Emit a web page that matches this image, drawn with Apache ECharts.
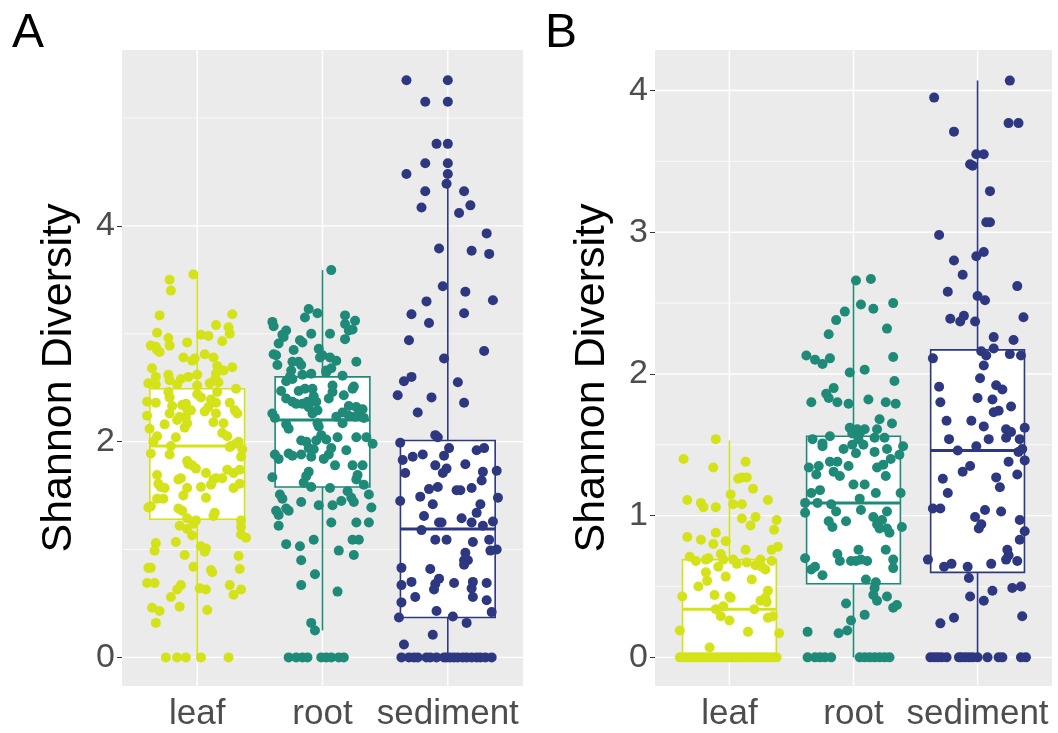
<!DOCTYPE html>
<html>
<head>
<meta charset="utf-8">
<script src="https://cdn.jsdelivr.net/npm/echarts@6/dist/echarts.min.js"></script>
<style>
  html, body { margin: 0; padding: 0; background: #fff; }
  #chart { width: 1058px; height: 733px; }
</style>
</head>
<body>
<div id="chart"></div>
<script>
// 分组与颜色
const categories = ['leaf', 'root', 'sediment'];
const groupColors = ['#D4E21A', '#1F8A78', '#2E3880'];

// y 轴刻度
const ticksA = [0, 2, 4];
const minorA = [1, 3, 5];
const ticksB = [0, 1, 2, 3, 4];
const minorB = [0.5, 1.5, 2.5, 3.5];

// 箱线统计 [min, Q1, median, Q3, max]
const boxA = [[0, 1.28, 1.96, 2.49, 3.54], [0.25, 1.58, 2.20, 2.60, 3.59], [0, 0.37, 1.19, 2.01, 4.38]];
const boxB = [[0, 0, 0.34, 0.69, 1.53], [0, 0.52, 1.09, 1.56, 2.64], [0, 0.60, 1.46, 2.17, 4.07]];

// 散点 [抖动偏移, Shannon 值]
const leafA = [[-0.03,3.55],[-0.22,3.50],[-0.21,3.40],[-0.30,3.17],[0.28,3.18],[0.15,3.08],[0.25,3.06],[0.26,3.00],[-0.32,3.01],[0.03,2.99],[0.09,2.98],[-0.23,2.96],[-0.08,2.92],[0.20,2.93],[-0.37,2.89],[-0.33,2.88],[-0.22,2.89],[-0.30,2.83],[-0.32,2.85],[0.06,2.81],[-0.11,2.78],[0.13,2.78],[-0.02,2.77],[-0.04,2.75],[-0.36,2.68],[0.16,2.70],[0.28,2.69],[0.21,2.66],[0.15,2.63],[0.14,2.57],[-0.33,2.60],[-0.23,2.62],[-0.22,2.57],[-0.13,2.58],[-0.07,2.60],[0.00,2.62],[-0.39,2.54],[-0.33,2.53],[-0.16,2.53],[0.00,2.52],[0.10,2.54],[0.17,2.55],[0.31,2.49],[0.00,2.44],[0.03,2.41],[-0.23,2.46],[-0.22,2.41],[0.16,2.46],[0.11,2.39],[-0.40,2.37],[-0.33,2.36],[-0.20,2.33],[-0.12,2.34],[-0.09,2.35],[0.15,2.36],[0.26,2.36],[0.09,2.32],[-0.22,2.26],[-0.08,2.30],[-0.05,2.29],[-0.14,2.23],[-0.09,2.23],[0.06,2.28],[0.15,2.26],[0.30,2.29],[0.32,2.26],[-0.40,2.24],[0.13,2.18],[-0.16,2.20],[-0.26,2.16],[-0.10,2.13],[-0.08,2.17],[0.21,2.17],[-0.38,2.12],[0.20,2.08],[-0.17,2.04],[-0.32,2.05],[-0.35,2.00],[0.24,2.05],[0.31,1.98],[0.27,1.96],[0.26,1.95],[0.33,2.00],[-0.21,1.96],[-0.37,1.89],[-0.22,1.88],[0.36,1.93],[0.35,1.86],[-0.08,1.82],[-0.07,1.79],[-0.01,1.75],[-0.04,1.78],[0.07,1.71],[-0.32,1.69],[0.24,1.74],[0.29,1.71],[0.34,1.74],[0.15,1.66],[0.13,1.65],[0.20,1.66],[-0.15,1.65],[-0.13,1.66],[-0.31,1.61],[-0.29,1.58],[-0.26,1.57],[-0.08,1.57],[0.03,1.58],[0.11,1.60],[0.29,1.57],[0.34,1.61],[-0.11,1.50],[-0.27,1.47],[-0.32,1.47],[0.07,1.48],[-0.39,1.39],[-0.37,1.40],[-0.15,1.38],[-0.12,1.36],[0.14,1.34],[0.13,1.31],[-0.08,1.29],[-0.01,1.27],[-0.03,1.24],[0.35,1.27],[-0.14,1.22],[-0.08,1.19],[0.35,1.21],[0.35,1.14],[0.39,1.11],[-0.04,1.13],[-0.33,1.06],[-0.34,0.99],[-0.17,1.07],[0.03,1.03],[0.07,1.01],[0.06,0.98],[-0.10,0.95],[0.33,0.94],[-0.39,0.83],[-0.37,0.83],[-0.03,0.84],[0.11,0.81],[0.12,0.79],[0.34,0.82],[-0.40,0.69],[-0.34,0.69],[-0.13,0.67],[-0.16,0.63],[-0.21,0.56],[0.02,0.64],[0.07,0.63],[0.26,0.67],[0.35,0.63],[0.29,0.58],[-0.36,0.46],[-0.30,0.43],[-0.14,0.47],[0.08,0.44],[-0.33,0.32],[-0.25,0],[-0.16,0],[-0.09,0],[0.03,0],[0.25,0]];

const rootA = [[0.07,3.59],[-0.11,3.23],[-0.14,3.15],[-0.04,3.19],[0.18,3.17],[0.26,3.12],[0.18,3.09],[-0.40,3.11],[-0.39,3.07],[0.24,3.04],[0.21,3.03],[-0.29,3.03],[-0.32,2.99],[-0.31,2.97],[-0.09,3.00],[0.06,3.00],[0.18,2.95],[-0.18,2.94],[-0.16,2.92],[-0.35,2.91],[-0.23,2.85],[-0.03,2.86],[0,2.80],[-0.02,2.78],[-0.39,2.81],[-0.37,2.80],[0.11,2.75],[0.27,2.74],[0.06,2.78],[-0.24,2.74],[-0.19,2.74],[-0.17,2.71],[-0.36,2.71],[-0.25,2.66],[0.03,2.66],[0.07,2.68],[0.03,2.64],[-0.26,2.60],[-0.16,2.62],[-0.09,2.63],[0.16,2.61],[-0.29,2.56],[-0.24,2.58],[-0.33,2.47],[-0.19,2.47],[-0.14,2.49],[-0.08,2.49],[-0.07,2.42],[-0.05,2.37],[0.08,2.52],[0.25,2.51],[0.24,2.49],[0.08,2.46],[-0.29,2.40],[-0.24,2.37],[-0.21,2.35],[-0.16,2.35],[-0.12,2.37],[0.17,2.43],[0.05,2.40],[-0.11,2.32],[-0.08,2.26],[-0.04,2.29],[0.21,2.33],[0.27,2.32],[0.32,2.30],[0.16,2.27],[0.29,2.25],[0.33,2.22],[0.11,2.23],[0.16,2.17],[-0.40,2.26],[-0.38,2.22],[0.21,2.24],[0.26,2.23],[-0.04,2.17],[-0.03,2.14],[-0.29,2.16],[-0.27,2.12],[-0.01,2.06],[0.12,2.04],[0.27,2.04],[0.35,2.04],[-0.17,2.01],[-0.13,2.00],[-0.05,2.01],[0.03,2.02],[-0.11,1.94],[-0.07,1.93],[0.07,1.94],[0.40,1.98],[0.19,1.92],[-0.38,1.88],[-0.35,1.84],[-0.27,1.89],[-0.24,1.87],[-0.17,1.88],[-0.09,1.86],[0.05,1.88],[0.01,1.84],[0.10,1.78],[0.24,1.78],[0.32,1.78],[0.28,1.69],[0.27,1.65],[-0.11,1.72],[-0.13,1.68],[-0.40,1.67],[-0.15,1.62],[-0.09,1.58],[0.06,1.57],[0.33,1.60],[-0.34,1.51],[-0.32,1.47],[0.20,1.54],[0.23,1.48],[0.15,1.45],[0.37,1.51],[0.25,1.44],[-0.17,1.44],[-0.03,1.41],[0.08,1.41],[-0.37,1.36],[-0.35,1.32],[-0.29,1.38],[-0.27,1.36],[0.39,1.39],[-0.35,1.22],[0.07,1.25],[0.27,1.25],[0.37,1.25],[-0.29,1.05],[-0.18,1.03],[-0.07,1.09],[0.24,1.09],[0.29,1.09],[0.13,0.99],[0.25,0.95],[-0.17,0.90],[-0.06,0.77],[-0.17,0.67],[0.12,0.61],[-0.09,0.32],[-0.06,0.25],[-0.27,0],[-0.21,0],[-0.16,0],[-0.12,0],[-0.01,0],[0.03,0],[0.07,0],[0.13,0],[0.17,0]];

const sedimentA = [[-0.33,5.35],[0.00,5.35],[-0.18,5.15],[0.00,5.15],[-0.09,4.76],[0.00,4.76],[-0.18,4.58],[0.00,4.58],[-0.33,4.48],[0.00,4.48],[-0.01,4.39],[-0.18,4.32],[0.13,4.32],[-0.21,4.17],[0.18,4.19],[0.09,4.12],[0.31,3.93],[-0.07,3.79],[0.19,3.77],[0.33,3.74],[-0.04,3.44],[0.14,3.39],[-0.17,3.30],[0.36,3.31],[-0.29,3.18],[0.13,3.19],[-0.15,3.10],[-0.31,2.94],[0.29,2.84],[-0.03,2.77],[-0.35,2.56],[-0.29,2.60],[0.08,2.55],[-0.40,2.43],[-0.13,2.41],[0.13,2.36],[-0.24,2.27],[-0.10,2.06],[-0.08,2.04],[-0.38,1.99],[-0.36,1.83],[-0.28,1.86],[-0.20,1.88],[-0.03,1.87],[0.01,1.94],[0.23,1.92],[0.29,1.94],[-0.34,1.71],[-0.10,1.78],[0.14,1.79],[-0.04,1.71],[-0.01,1.75],[0.28,1.72],[0.27,1.64],[0.39,1.73],[-0.15,1.56],[-0.08,1.58],[-0.22,1.49],[0.07,1.55],[0.10,1.55],[0.19,1.57],[0.40,1.48],[-0.38,1.45],[-0.12,1.42],[0.26,1.42],[0.23,1.34],[-0.19,1.31],[0.11,1.29],[-0.07,1.25],[-0.05,1.25],[0.19,1.25],[0.28,1.22],[0.36,1.26],[-0.21,1.18],[-0.10,1.09],[-0.01,1.09],[0.20,1.07],[0.33,1.09],[0.39,1.00],[0.34,0.99],[0.14,0.97],[0.13,0.90],[0.16,0.90],[0.13,0.86],[-0.37,0.83],[-0.14,0.82],[-0.07,0.73],[-0.10,0.68],[-0.11,0.63],[-0.29,0.70],[-0.37,0.67],[0.05,0.69],[0.20,0.70],[0.19,0.64],[0.31,0.69],[-0.26,0.56],[-0.37,0.51],[0.20,0.56],[0.31,0.53],[-0.09,0.43],[0.35,0.42],[-0.39,0.37],[0.04,0.38],[0.15,0.32],[-0.12,0.21],[-0.35,0.12],[-0.37,0],[-0.31,0],[-0.27,0],[-0.24,0],[-0.17,0],[-0.14,0],[-0.09,0],[-0.03,0],[-0.01,0],[0.02,0],[0.05,0],[0.08,0],[0.12,0],[0.15,0],[0.19,0],[0.23,0],[0.26,0],[0.30,0],[0.35,0]];

const leafB = [[-0.11,1.54],[-0.37,1.40],[-0.13,1.34],[0.13,1.38],[0.07,1.26],[0.10,1.27],[0.14,1.27],[0.19,1.19],[0.01,1.15],[-0.34,1.11],[-0.23,1.09],[-0.21,1.06],[-0.11,1.06],[0.03,1.08],[0.10,1.08],[0.31,1.11],[0.10,0.98],[0.21,0.99],[0.17,0.93],[0.38,0.97],[0.36,0.90],[-0.34,0.85],[-0.23,0.83],[-0.11,0.88],[-0.03,0.82],[-0.13,0.80],[0.13,0.76],[0.34,0.76],[0.39,0.78],[-0.07,0.73],[-0.32,0.71],[-0.27,0.68],[-0.19,0.69],[-0.17,0.70],[-0.09,0.64],[-0.05,0.69],[0.03,0.69],[0.06,0.66],[0.14,0.67],[0.25,0.69],[0.26,0.64],[0.29,0.62],[0.34,0.68],[0.21,0.65],[-0.19,0.60],[-0.18,0.54],[-0.03,0.57],[-0.25,0.50],[0.18,0.55],[-0.38,0.43],[-0.12,0.44],[0.00,0.43],[0.01,0.42],[0.31,0.47],[0.25,0.40],[0.30,0.39],[0.29,0.42],[-0.11,0.34],[-0.05,0.36],[0.20,0.34],[-0.07,0.29],[0.00,0.26],[0.31,0.28],[0.35,0.29],[-0.40,0.19],[0.15,0.18],[0.40,0.17],[-0.16,0.07],[-0.40,0],[-0.37,0],[-0.34,0],[-0.31,0],[-0.28,0],[-0.25,0],[-0.22,0],[-0.19,0],[-0.16,0],[-0.13,0],[-0.10,0],[-0.07,0],[-0.04,0],[-0.01,0],[0.02,0],[0.05,0],[0.08,0],[0.11,0],[0.14,0],[0.17,0],[0.20,0],[0.23,0],[0.26,0],[0.29,0],[0.32,0],[0.35,0],[0.38,0]];

const rootB = [[0.02,2.66],[0.14,2.67],[0.06,2.49],[0.16,2.46],[0.32,2.50],[-0.07,2.44],[-0.14,2.38],[-0.20,2.28],[0.27,2.32],[-0.38,2.13],[-0.31,2.10],[-0.25,2.07],[-0.19,2.11],[0.32,2.12],[-0.03,2.01],[0.09,2.03],[0.33,1.95],[-0.22,1.86],[-0.16,1.90],[-0.20,1.83],[-0.34,1.80],[-0.13,1.80],[-0.04,1.79],[0.12,1.82],[0.26,1.80],[0.34,1.79],[0.21,1.68],[0.31,1.65],[-0.03,1.62],[0.03,1.61],[0.09,1.61],[0.19,1.61],[-0.01,1.58],[0.05,1.58],[-0.33,1.54],[-0.25,1.51],[-0.25,1.49],[-0.19,1.56],[-0.01,1.50],[0.04,1.54],[0.08,1.50],[0.17,1.55],[0.25,1.55],[-0.08,1.47],[0.02,1.44],[0.17,1.45],[0.27,1.47],[0.40,1.49],[0.37,1.43],[0.30,1.40],[-0.19,1.38],[-0.13,1.38],[-0.36,1.34],[-0.28,1.35],[-0.04,1.35],[0.24,1.36],[0.19,1.34],[-0.16,1.31],[-0.11,1.28],[-0.30,1.29],[0.26,1.28],[0.00,1.22],[0.09,1.22],[-0.27,1.18],[-0.34,1.16],[0.18,1.16],[0.38,1.16],[-0.39,1.09],[-0.39,1.02],[-0.29,1.09],[-0.18,1.08],[0.05,1.12],[-0.14,1.03],[0.06,1.04],[0.27,1.03],[-0.20,0.96],[-0.17,0.92],[-0.06,0.96],[0.16,0.99],[0.19,0.94],[0.23,0.97],[0.21,0.91],[0.27,0.91],[0.29,0.88],[0.39,0.92],[0.04,0.76],[0.26,0.76],[-0.13,0.73],[-0.11,0.68],[-0.02,0.68],[0.02,0.68],[0.06,0.69],[0.11,0.68],[-0.39,0.70],[0.32,0.69],[0.32,0.63],[-0.34,0.62],[-0.31,0.64],[-0.25,0.58],[0.10,0.55],[0.18,0.53],[0.17,0.49],[0.16,0.44],[0.19,0.40],[0.27,0.43],[0.35,0.37],[0.32,0.35],[-0.06,0.38],[0.09,0.30],[-0.02,0.26],[-0.37,0.18],[-0.12,0.17],[-0.05,0.19],[-0.37,0],[-0.31,0],[-0.27,0],[-0.23,0],[-0.18,0],[0.05,0],[0.09,0],[0.13,0],[0.17,0],[0.21,0],[0.25,0],[0.29,0]];

const sedimentB = [[0.26,4.07],[-0.35,3.95],[0.25,3.77],[0.33,3.77],[-0.19,3.71],[-0.01,3.55],[0.05,3.55],[-0.06,3.48],[-0.04,3.47],[0.10,3.29],[0.07,3.07],[0.10,3.07],[-0.31,2.98],[0.05,2.86],[-0.01,2.83],[-0.19,2.80],[-0.12,2.70],[-0.24,2.58],[0.32,2.62],[0.00,2.55],[0.06,2.52],[-0.22,2.39],[-0.11,2.41],[-0.14,2.37],[-0.02,2.37],[0.37,2.40],[0.13,2.26],[0.29,2.24],[0.03,2.16],[0.13,2.18],[0.07,2.13],[0.26,2.14],[0.35,2.13],[-0.36,2.11],[0.05,2.06],[0.02,1.97],[-0.31,1.91],[0.15,1.92],[0.20,1.89],[0.00,1.83],[0.12,1.82],[-0.30,1.80],[0.27,1.77],[0.13,1.73],[0.17,1.74],[-0.25,1.67],[-0.05,1.67],[0.05,1.63],[0.23,1.61],[0.27,1.59],[0.38,1.62],[-0.23,1.54],[0.09,1.54],[0.23,1.55],[0.34,1.54],[-0.16,1.46],[-0.01,1.49],[0.33,1.45],[0.36,1.47],[0.38,1.39],[0.25,1.38],[-0.12,1.31],[-0.06,1.35],[-0.28,1.26],[0.15,1.27],[0.32,1.29],[-0.24,1.16],[0.18,1.20],[-0.36,1.05],[-0.30,1.05],[0.06,1.04],[0.19,1.03],[-0.02,0.99],[0.03,0.94],[0.01,0.91],[0.34,0.97],[0.38,0.89],[0.34,0.83],[-0.40,0.69],[0.24,0.76],[0.25,0.72],[0.23,0.69],[0.32,0.68],[-0.27,0.64],[-0.21,0.66],[-0.08,0.64],[0.11,0.66],[-0.07,0.56],[-0.06,0.43],[0.05,0.40],[0.12,0.47],[0.28,0.49],[0.35,0.50],[-0.30,0.24],[-0.19,0.28],[0.36,0.29],[-0.38,0],[-0.35,0],[-0.32,0],[-0.29,0],[-0.25,0],[-0.15,0],[-0.13,0],[-0.10,0],[-0.07,0],[-0.04,0],[0.00,0],[0.08,0],[0.17,0],[0.20,0],[0.35,0],[0.39,0]];

const FONT = '"Liberation Sans", Arial, Helvetica, sans-serif';

const chart = echarts.init(document.getElementById('chart'));

// 背景网格线（主线粗，次线细）
function gridLineSeries(idx, majors, minors) {
    const data = [];
    majors.forEach(v => data.push([0, v, 1.4]));
    minors.forEach(v => data.push([0, v, 0.7]));
    [1, 2, 3].forEach(v => data.push([1, v, 1.4]));
    return {
        type: 'custom',
        xAxisIndex: idx,
        yAxisIndex: idx,
        z: 1,
        silent: true,
        encode: { x: -1, y: -1 },
        data: data,
        renderItem: function (params, api) {
            const cs = params.coordSys;
            const kind = api.value(0);
            const v = api.value(1);
            const w = api.value(2);
            let shape;
            if (kind === 0) {
                const y = api.coord([1, v])[1];
                shape = { x1: cs.x, y1: y, x2: cs.x + cs.width, y2: y };
            } else {
                const x = api.coord([v, 0])[0];
                shape = { x1: x, y1: cs.y, x2: x, y2: cs.y + cs.height };
            }
            return { type: 'line', shape: shape, style: { stroke: '#FFFFFF', lineWidth: w } };
        }
    };
}

// 箱线图（白色填充，中位线加粗）
function boxSeries(idx, stats) {
    const half = 0.378;
    return {
        type: 'custom',
        xAxisIndex: idx,
        yAxisIndex: idx,
        z: 2,
        silent: true,
        encode: { x: 0, y: [1, 2, 3, 4, 5] },
        data: stats.map((s, i) => [i + 1].concat(s).concat([i])),
        renderItem: function (params, api) {
            const x = api.value(0);
            const color = groupColors[api.value(6)];
            const pMin = api.coord([x, api.value(1)]);
            const pQ1 = api.coord([x, api.value(2)]);
            const pMed = api.coord([x, api.value(3)]);
            const pQ3 = api.coord([x, api.value(4)]);
            const pMax = api.coord([x, api.value(5)]);
            const left = api.coord([x - half, 0])[0];
            const right = api.coord([x + half, 0])[0];
            return {
                type: 'group',
                children: [
                    { type: 'line', shape: { x1: pMax[0], y1: pMax[1], x2: pQ3[0], y2: pQ3[1] }, style: { stroke: color, lineWidth: 1.6 } },
                    { type: 'line', shape: { x1: pQ1[0], y1: pQ1[1], x2: pMin[0], y2: pMin[1] }, style: { stroke: color, lineWidth: 1.6 } },
                    { type: 'rect', shape: { x: left, y: pQ3[1], width: right - left, height: pQ1[1] - pQ3[1] }, style: { fill: '#FFFFFF', stroke: color, lineWidth: 1.6 } },
                    { type: 'line', shape: { x1: left, y1: pMed[1], x2: right, y2: pMed[1] }, style: { stroke: color, lineWidth: 3 } }
                ]
            };
        }
    };
}

function pointSeries(idx, groupIdx, pts) {
    return {
        type: 'scatter',
        xAxisIndex: idx,
        yAxisIndex: idx,
        z: 3,
        symbolSize: 10,
        itemStyle: { color: groupColors[groupIdx], opacity: 1 },
        data: pts.map(p => [groupIdx + 1 + p[0], p[1]])
    };
}

function xAxis(idx) {
    return {
        type: 'value',
        gridIndex: idx,
        min: 0.4,
        max: 3.6,
        axisLine: { show: false },
        splitLine: { show: false },
        axisTick: { show: true, customValues: [1, 2, 3], length: 5, lineStyle: { color: '#333333', width: 1 } },
        axisLabel: {
            customValues: [1, 2, 3],
            formatter: v => categories[Math.round(v) - 1],
            color: '#4D4D4D', fontSize: 35, fontFamily: FONT, margin: 11
        }
    };
}

function yAxis(idx, min, max, ticks) {
    return {
        type: 'value',
        gridIndex: idx,
        min: min,
        max: max,
        axisLine: { show: false },
        splitLine: { show: false },
        axisTick: { show: true, customValues: ticks, length: 5, lineStyle: { color: '#333333', width: 1 } },
        axisLabel: { customValues: ticks, color: '#4D4D4D', fontSize: 34, fontFamily: FONT, margin: 7 },
        name: 'Shannon Diversity',
        nameLocation: 'middle',
        nameGap: 41,
        nameTextStyle: { color: '#000000', fontSize: 43, fontFamily: FONT, padding: [0, 20, 0, 0] }
    };
}

const option = {
    backgroundColor: '#FFFFFF',
    animation: false,
    title: [
        { text: 'A', left: 7, top: 5, textStyle: { fontSize: 48, fontWeight: 'normal', color: '#000', fontFamily: FONT } },
        { text: 'B', left: 540, top: 5, textStyle: { fontSize: 48, fontWeight: 'normal', color: '#000', fontFamily: FONT } }
    ],
    grid: [
        { left: 122, top: 50, width: 401, height: 636, show: true, backgroundColor: '#EBEBEB', borderWidth: 0 },
        { left: 655, top: 50, width: 397, height: 636, show: true, backgroundColor: '#EBEBEB', borderWidth: 0 }
    ],
    xAxis: [xAxis(0), xAxis(1)],
    yAxis: [yAxis(0, -0.265, 5.63, ticksA), yAxis(1, -0.202, 4.286, ticksB)],
    series: [
        gridLineSeries(0, ticksA, minorA),
        gridLineSeries(1, ticksB, minorB),
        boxSeries(0, boxA),
        boxSeries(1, boxB),
        pointSeries(0, 0, leafA),
        pointSeries(0, 1, rootA),
        pointSeries(0, 2, sedimentA),
        pointSeries(1, 0, leafB),
        pointSeries(1, 1, rootB),
        pointSeries(1, 2, sedimentB)
    ]
};

chart.setOption(option);
</script>
</body>
</html>
